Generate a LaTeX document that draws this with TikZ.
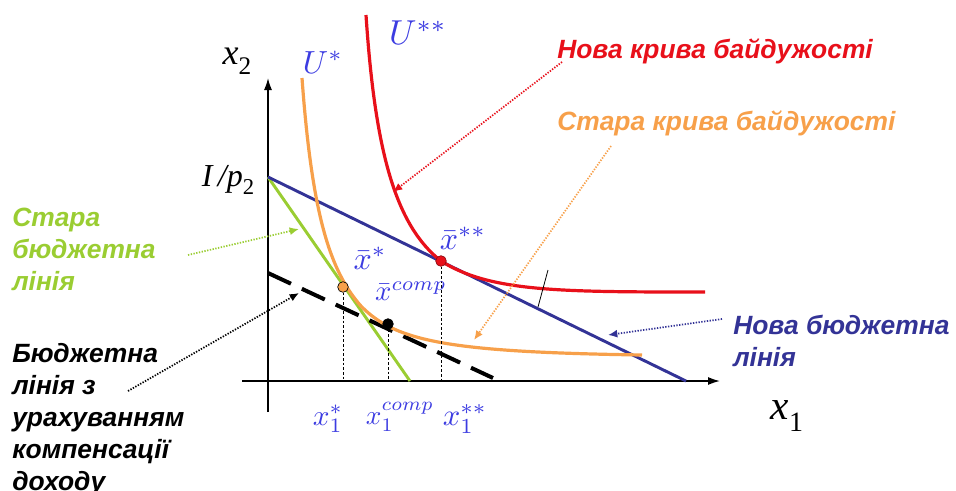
\documentclass[tikz,border=0pt]{standalone}
\usepackage{graphicx}
\usepackage{fontspec}
\newfontfamily\labfont{Liberation Sans}
\newfontfamily\tmsfont{Liberation Serif}
\usetikzlibrary{arrows.meta}
\definecolor{cred}{RGB}{232,16,26}
\definecolor{corange}{RGB}{247,160,74}
\definecolor{cgreen}{RGB}{154,205,50}
\definecolor{cnavy}{RGB}{51,51,150}
\definecolor{cmath}{RGB}{60,60,225}
\begin{document}
\begin{tikzpicture}[x=0.75pt,y=-0.75pt,
  axisline/.style={line width=1.1pt,-{Latex[length=9pt,width=6pt]}},
  thickcurve/.style={line width=2.4pt},
  ptr/.style={line width=1.3pt,dash pattern=on 1pt off 1.1pt,-{Latex[length=7pt,width=6pt]}},
  guide/.style={line width=0.6pt,dash pattern=on 2pt off 1.5pt},
  lbl/.style={font=\labfont\bfseries\itshape\fontsize{19.8}{24}\selectfont,anchor=north west,align=left,inner sep=0pt},
  mth/.style={text=cmath,inner sep=0pt},
  tms/.style={inner sep=0pt,font=\tmsfont\itshape},
  pt/.style={circle,inner sep=0pt,minimum size=8pt,draw=black,line width=0.5pt}]
\useasboundingbox (0,0) rectangle (956,490);

% axes
\coordinate (xa0) at (242,381);
\coordinate (xa1) at (720,381);
\coordinate (ya0) at (268,412);
\coordinate (ya1) at (268,78);
\draw[axisline] (xa0) -- (xa1);
\draw[axisline] (ya0) -- (ya1);

% budget lines
\coordinate (A) at (268,177);
\coordinate (Bend) at (686,381);
\coordinate (Gend) at (410,381);
\coordinate (D0) at (268,273);
\coordinate (D1) at (493,378);
\draw[line width=2.2pt,cgreen] (A) -- (Gend);
\draw[line width=2.2pt,cnavy] (A) -- (Bend);
\draw[line width=3pt,dash pattern=on 19pt off 9pt] (D0) -- (D1);

% indifference curves
\draw[thickcurve,corange] (302,78) .. controls (312,215) and (330,270) .. (360,305)
   .. controls (395,342) and (450,352) .. (642,355);
\draw[thickcurve,cred] (366,15) .. controls (375,150) and (395,225) .. (441,261)
   .. controls (490,292) and (560,292) .. (705,292);

% small tick
\coordinate (t0) at (538,307);
\coordinate (t1) at (548,270);
\draw[line width=0.6pt] (t0) -- (t1);

% points
\node[pt,fill=corange] (po) at (343,287) {};
\node[pt,fill=black] (pb) at (388,324) {};
\node[pt,fill=cred,draw=cred!60!black] (pr) at (441,261) {};
\draw[guide] (po) -- (po |- xa0);
\draw[guide] (pb) -- (pb |- xa0);
\draw[guide] (pr) -- (pr |- xa0);

% math labels
\node[tms,font=\tmsfont\itshape\fontsize{27}{30}\selectfont] (lx2) at (237,61) {x\raisebox{-0.28em}{\upshape\fontsize{19}{22}\selectfont 2}};
\node[tms,font=\tmsfont\itshape\fontsize{31}{36}\selectfont] (lx1) at (787,416) {x\raisebox{-0.27em}{\upshape\fontsize{21}{24}\selectfont 1}};
\node[tms,font=\tmsfont\itshape\fontsize{24}{28}\selectfont] (lI) at (228,180) {I\,/p\raisebox{-0.25em}{\upshape\fontsize{17}{20}\selectfont 2}};
\node[mth] (lU1) at (323,62) {\scalebox{2.4}{$U^*$}};
\node[mth] (lU2) at (418,33) {\scalebox{2.6}{$U^{**}$}};
\node[mth] (lxs) at (370,258) {\scalebox{2.4}{$\bar{x}^*$}};
\node[mth] (lxc) at (411,291) {\scalebox{2.15}{$\bar{x}^{comp}$}};
\node[mth] (lxss) at (463,238) {\scalebox{2.4}{$\bar{x}^{**}$}};
\node[mth] (lx1s) at (328,419) {\scalebox{2.2}{$x_1^*$}};
\node[mth] (lx1c) at (400,417) {\scalebox{2.05}{$x_1^{comp}$}};
\node[mth] (lx1ss) at (465,419) {\scalebox{2.3}{$x_1^{**}$}};

% text labels
\node[lbl,text=cred] (tnew) at (557,38) {Нова крива байдужості};
\node[lbl,text=corange] (told) at (557,110) {Стара крива байдужості};
\node[lbl,text=cgreen] (tgreen) at (12,208) {Стара\\бюджетна\\лінія};
\node[lbl,text=black] (tcomp) at (12,343) {Бюджетна\\лінія з\\урахуванням\\компенсації\\доходу};
\node[lbl,text=cnavy] (tblue) at (733,315) {Нова бюджетна\\лінія};

% pointer arrows
\coordinate (r0) at (562,62);   \coordinate (r1) at (393,192);
\coordinate (o0) at (611,146);  \coordinate (o1) at (474,340);
\coordinate (g0) at (188,255);  \coordinate (g1) at (299,229);
\coordinate (k0) at (128,391);  \coordinate (k1) at (299,293);
\coordinate (b0) at (722,319);  \coordinate (b1) at (608,335);
\draw[ptr,cred] (r0) -- (r1);
\draw[ptr,corange] (o0) -- (o1);
\draw[ptr,cgreen] (g0) -- (g1);
\draw[ptr,black] (k0) -- (k1);
\draw[ptr,cnavy] (b0) -- (b1);
\end{tikzpicture}
\end{document}
